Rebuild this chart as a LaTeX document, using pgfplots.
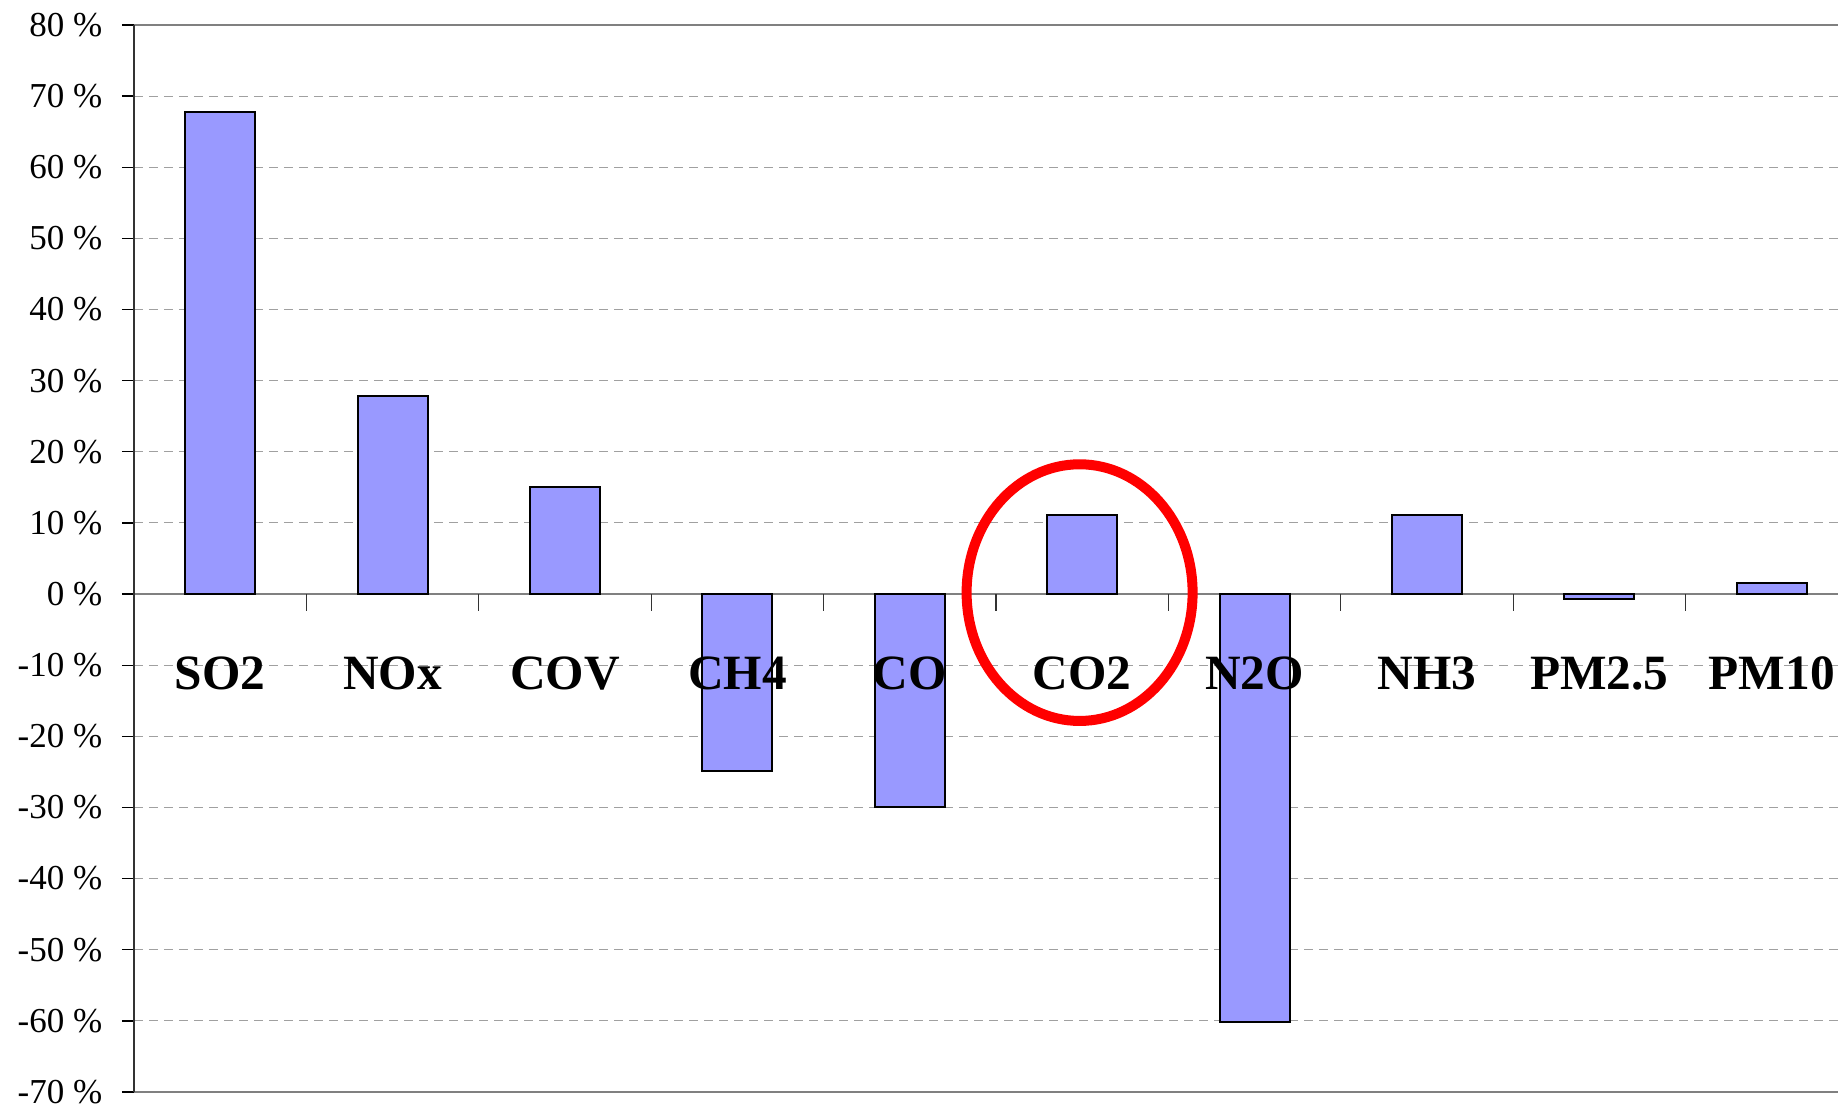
\documentclass[border=0pt]{standalone}
\usepackage{pgfplots}
\pgfplotsset{compat=1.18}
\usepackage{fontspec}
\setmainfont{Liberation Serif}
\definecolor{barblue}{HTML}{9999FF}
\definecolor{gridgray}{HTML}{A0A0A0}
\begin{document}
\begin{tikzpicture}
\begin{axis}[
 axis on top,
 separate axis lines,
 scale only axis, width=517.2pt, height=320.1pt,
 xmin=-0.5, xmax=9.5, ymin=-70, ymax=80,
 ytick={-70,-60,...,80},
 xtick={0,...,9},
 xticklabels={SO2,NOx,COV,CH4,CO,CO2,N2O,NH3,PM2.5,PM10},
 xtick align=inside, ytick align=outside,
 major tick length=3.6pt,
 xtick style={draw=none},
 ytick style={black, line width=0.4pt},
 xticklabel style={anchor=base, yshift=120.6pt, font=\fontsize{14.8}{16}\selectfont\bfseries},
 yticklabel style={font=\fontsize{10.5}{12}\selectfont, xshift=-2.4pt},
 yticklabel={\pgfmathprintnumber{\tick}~\%},
 /pgf/number format/assume math mode=true,
 x axis line style={draw=gray, line width=0.6pt},
 y axis line style={draw=black!80, line width=0.6pt},
 clip=false,
]
\coordinate (sw) at (rel axis cs:0,0);
\coordinate (ne) at (rel axis cs:1,1);
\pgfplotsinvokeforeach{-60,-50,...,70}{
  \draw[gridgray, dash pattern=on 2.7pt off 1.8pt, line width=0.3pt] (axis cs:-0.5,#1) -- (axis cs:9.5,#1);
}
\draw[gray, line width=0.4pt] (axis cs:-0.5,0) -- (axis cs:9.5,0);
\pgfplotsinvokeforeach{0.5,1.5,...,8.5}{
  \draw[black!80, line width=0.35pt] (axis cs:#1,0) -- ([yshift=-5pt]axis cs:#1,0);
}
\addplot[ybar, bar width=21pt, fill=barblue, draw=black, line width=0.6pt]
 coordinates {(0,67.7) (1,27.8) (2,15.1) (3,-24.9) (4,-29.9) (5,11.1) (6,-60.2) (7,11.1) (8,-0.7) (9,1.6)};
\draw[red, line width=3pt] (axis cs:4.985,0.2) ellipse [x radius=33.9pt, y radius=38.5pt];
\end{axis}
\pgfresetboundingbox
\path[use as bounding box] ([xshift=-40.2pt,yshift=-4.5pt]sw) rectangle ([xshift=-6pt,yshift=7.5pt]ne);
\end{tikzpicture}
\end{document}
